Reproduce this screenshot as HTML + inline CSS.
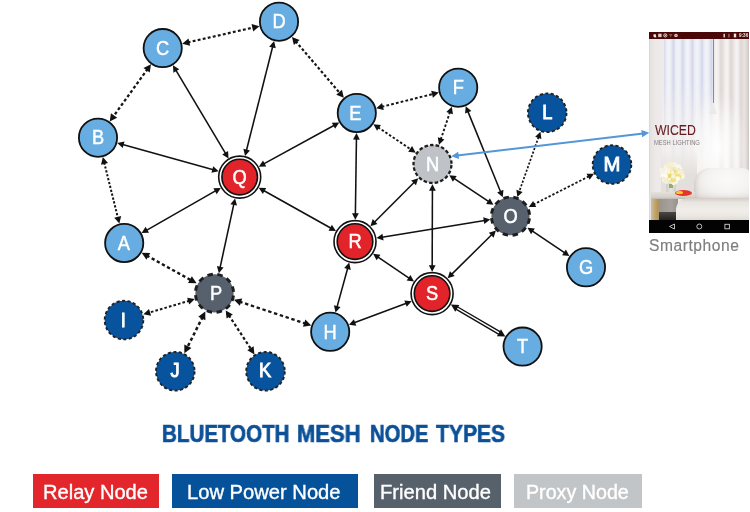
<!DOCTYPE html>
<html><head><meta charset="utf-8"><style>
html,body{margin:0;padding:0;background:#fff;}
body{width:750px;height:512px;position:relative;overflow:hidden;font-family:"Liberation Sans",sans-serif;}
svg#g{position:absolute;left:0;top:0;will-change:transform;}
#title div,.lt,#phone,#smart{will-change:transform;}
#phone{position:absolute;left:649px;top:32px;width:100px;height:201px;overflow:hidden;background:#efeae6;}
#phone div{position:absolute;}
#phone .sb{left:0;top:0;width:100px;height:6.8px;background:#4a0707;}
#phone .sb svg{position:absolute;left:0;top:0;}
#phone .wall{left:0;top:7px;width:15px;height:181px;background:linear-gradient(90deg,#d8d2d0 0,#e6e2e1 1.5px,#ece9e8 6px,#eeebea 15px);}
#phone .cur{left:15px;top:7px;width:49px;height:150px;background:repeating-linear-gradient(90deg,#d3d7e8 0,#e9ebf5 2px,#f3f4f9 4.5px,#eceef6 6.5px,#dcdfee 8.5px,#d3d7e8 9.5px);}
#phone .curfade{left:13px;top:50px;width:55px;height:115px;background:linear-gradient(180deg,rgba(244,241,239,0),rgba(244,241,239,0.55) 40px,#f3efec 90px);}
#phone .rc{left:64px;top:7px;width:36px;height:160px;background:repeating-linear-gradient(90deg,#e6e0de 0,#f6f3f2 3px,#f2efee 5px,#dcd6d4 8px,#e6e0de 10px);}
#phone .rcedge{left:94px;top:7px;width:6px;height:160px;background:linear-gradient(90deg,rgba(214,205,200,0),#cfc6c1);}
#phone .glow{left:38px;top:60px;width:62px;height:110px;background:radial-gradient(closest-side,rgba(255,255,255,0.97),rgba(255,255,255,0.5) 55%,rgba(255,255,255,0) 100%);}
#phone .cord{left:64px;top:7px;width:1px;height:64px;background:#4fa597;}
#phone .lamp{left:60px;top:71px;width:0;height:0;border-left:4.5px solid transparent;border-right:4.5px solid transparent;border-bottom:11px solid #eceae8;}
#phone .w1{left:6px;top:91.6px;font-size:13.8px;line-height:14px;color:#661a21;transform:scaleX(0.89);transform-origin:0 0;white-space:nowrap;-webkit-text-stroke:0.1px #661a21;}
#phone .w2{left:5px;top:107px;font-size:6.4px;line-height:7px;color:#857f7f;transform:scaleX(0.91);transform-origin:0 0;white-space:nowrap;}
#phone .bgl{left:12px;top:118px;width:36px;height:45px;background:linear-gradient(180deg,rgba(228,224,221,0),#e3dfdc 25px);}
#phone .flw{left:10px;top:129px;width:27px;height:26px;border-radius:50%;background:radial-gradient(circle at 35% 35%,#fbf8ea 0,rgba(251,248,234,0) 30%),radial-gradient(circle at 60% 55%,#eee08a 0,#f3e9b0 25%,#f7f1d8 50%,#f4efe2 62%,rgba(244,239,226,0) 72%);}
#phone .vase{left:17px;top:151px;width:10px;height:9px;background:linear-gradient(90deg,#cfcdc6,#e6e4de 50%,#cdd0c2);}
#phone .stem{left:20px;top:150px;width:4px;height:6px;background:#94a878;}
#phone .table{left:2px;top:159.5px;width:44px;height:7.5px;background:linear-gradient(180deg,#e4e0da,#d6d1ca 70%,#bfb9b1);}
#phone .under{left:2px;top:167px;width:27px;height:21px;background:linear-gradient(90deg,#c4beb8 0,#c4a463 4px,#b39457 7px,#9b958f 9px,#a7a29d 20px,#96918c 27px);}
#phone .under2{left:10px;top:180px;width:20px;height:8px;background:linear-gradient(180deg,#4a4643,#262423);}
#phone .tray{left:26px;top:158px;width:17px;height:6px;border-radius:50%;background:#e5352a;}
#phone .tray2{left:27px;top:158.5px;width:7px;height:3.5px;border-radius:50%;background:#f2c92f;}
#phone .pillow{left:45px;top:136px;width:57px;height:33px;border-radius:16px 8px 0 0;background:radial-gradient(ellipse at 60% 35%,#fbfaf9 0,#f5f3f1 45%,#e6e2df 80%,#d6d0cc 100%);box-shadow:inset 2px -3px 4px rgba(150,140,135,0.3);}
#phone .bed{left:27px;top:166px;width:75px;height:22px;background:linear-gradient(180deg,#d4cdc7,#e9e5e0 20%,#f1ede9 55%,#ebe7e2 80%,#e0dbd6);border-radius:12px 0 0 0;}
#phone .nav{left:0;top:188px;width:100px;height:13px;background:#030303;}
#phone .nav svg{position:absolute;left:0;top:0;}

#smart{position:absolute;left:649px;top:236.5px;font-size:15.6px;line-height:18px;color:#7d7d7d;-webkit-text-stroke:0.15px #7d7d7d;letter-spacing:0.55px;white-space:nowrap;}
#title div{position:absolute;top:421px;font-size:23.2px;line-height:26px;font-weight:bold;color:#0c5097;white-space:nowrap;letter-spacing:0px;transform-origin:0 0;-webkit-text-stroke:0.65px #0c5097;}
.lg{position:absolute;top:474px;height:34px;}
.lt{position:absolute;top:479.9px;color:#fff;font-size:19.5px;line-height:24px;white-space:nowrap;transform-origin:0 0;-webkit-text-stroke:0.35px #fff;}
</style></head><body>
<svg id="g" width="750" height="512" viewBox="0 0 750 512">
<line x1="175.82" y1="70.08" x2="225.66" y2="153.57" stroke="#111" stroke-width="1.55"/>
<path d="M172.95,65.27 L179.25,69.20 L173.41,72.68Z" fill="#111"/>
<path d="M228.53,158.38 L222.22,154.46 L228.06,150.97Z" fill="#111"/>
<line x1="272.72" y1="46.52" x2="246.42" y2="150.54" stroke="#111" stroke-width="1.55"/>
<path d="M274.10,41.09 L275.77,48.32 L269.18,46.65Z" fill="#111"/>
<path d="M245.04,155.97 L243.37,148.73 L249.96,150.40Z" fill="#111"/>
<line x1="122.66" y1="144.56" x2="213.30" y2="169.76" stroke="#111" stroke-width="1.55"/>
<path d="M117.27,143.06 L124.54,141.55 L122.72,148.10Z" fill="#111"/>
<path d="M218.70,171.26 L211.43,172.77 L213.25,166.22Z" fill="#111"/>
<line x1="146.44" y1="230.31" x2="215.90" y2="190.68" stroke="#111" stroke-width="1.55"/>
<path d="M141.57,233.09 L145.62,226.86 L148.99,232.77Z" fill="#111"/>
<path d="M220.77,187.90 L216.72,194.13 L213.35,188.22Z" fill="#111"/>
<line x1="334.34" y1="125.29" x2="263.73" y2="163.94" stroke="#111" stroke-width="1.55"/>
<path d="M339.26,122.60 L335.10,128.75 L331.83,122.79Z" fill="#111"/>
<path d="M258.82,166.63 L262.98,160.48 L266.24,166.45Z" fill="#111"/>
<line x1="263.61" y1="190.48" x2="331.09" y2="228.22" stroke="#111" stroke-width="1.55"/>
<path d="M258.73,187.74 L266.15,188.00 L262.83,193.93Z" fill="#111"/>
<path d="M335.97,230.96 L328.55,230.70 L331.87,224.77Z" fill="#111"/>
<line x1="233.89" y1="203.88" x2="220.03" y2="267.79" stroke="#111" stroke-width="1.55"/>
<path d="M235.08,198.40 L237.00,205.58 L230.36,204.13Z" fill="#111"/>
<path d="M218.84,273.27 L216.92,266.10 L223.57,267.54Z" fill="#111"/>
<line x1="356.44" y1="138.60" x2="355.38" y2="214.20" stroke="#111" stroke-width="1.55"/>
<path d="M356.52,133.00 L359.83,139.64 L353.03,139.55Z" fill="#111"/>
<path d="M355.31,219.80 L352.00,213.16 L358.80,213.25Z" fill="#111"/>
<line x1="374.36" y1="222.21" x2="414.27" y2="182.26" stroke="#111" stroke-width="1.55"/>
<path d="M370.40,226.18 L372.66,219.10 L377.47,223.91Z" fill="#111"/>
<path d="M418.23,178.29 L415.97,185.37 L411.16,180.56Z" fill="#111"/>
<line x1="382.04" y1="237.18" x2="484.74" y2="220.41" stroke="#111" stroke-width="1.55"/>
<path d="M376.51,238.09 L382.48,233.67 L383.58,240.38Z" fill="#111"/>
<path d="M490.27,219.50 L484.30,223.92 L483.21,217.21Z" fill="#111"/>
<line x1="377.72" y1="256.92" x2="409.38" y2="278.28" stroke="#111" stroke-width="1.55"/>
<path d="M373.07,253.79 L380.45,254.66 L376.64,260.30Z" fill="#111"/>
<path d="M414.03,281.41 L406.65,280.54 L410.46,274.90Z" fill="#111"/>
<line x1="347.74" y1="268.02" x2="336.99" y2="307.12" stroke="#111" stroke-width="1.55"/>
<path d="M349.22,262.62 L350.75,269.89 L344.19,268.08Z" fill="#111"/>
<path d="M335.50,312.52 L333.97,305.25 L340.53,307.05Z" fill="#111"/>
<line x1="453.94" y1="178.35" x2="488.81" y2="201.68" stroke="#111" stroke-width="1.55"/>
<path d="M449.29,175.23 L456.66,176.08 L452.88,181.73Z" fill="#111"/>
<path d="M493.46,204.80 L486.09,203.95 L489.87,198.30Z" fill="#111"/>
<line x1="432.42" y1="189.80" x2="432.18" y2="266.20" stroke="#111" stroke-width="1.55"/>
<path d="M432.44,184.20 L435.82,190.81 L429.02,190.79Z" fill="#111"/>
<path d="M432.17,271.80 L428.79,265.19 L435.59,265.21Z" fill="#111"/>
<line x1="467.85" y1="111.41" x2="500.66" y2="192.03" stroke="#111" stroke-width="1.55"/>
<path d="M465.74,106.22 L471.38,111.06 L465.08,113.62Z" fill="#111"/>
<path d="M502.77,197.21 L497.13,192.38 L503.43,189.82Z" fill="#111"/>
<line x1="491.93" y1="234.54" x2="451.60" y2="274.35" stroke="#111" stroke-width="1.55"/>
<path d="M495.91,230.60 L493.60,237.66 L488.83,232.82Z" fill="#111"/>
<path d="M447.61,278.28 L449.92,271.23 L454.70,276.07Z" fill="#111"/>
<line x1="532.11" y1="230.83" x2="564.80" y2="252.95" stroke="#111" stroke-width="1.55"/>
<path d="M527.48,227.69 L534.85,228.57 L531.04,234.21Z" fill="#111"/>
<path d="M569.44,256.09 L562.07,255.21 L565.88,249.57Z" fill="#111"/>
<line x1="406.44" y1="303.22" x2="354.17" y2="322.81" stroke="#111" stroke-width="1.55"/>
<path d="M411.69,301.25 L406.70,306.75 L404.31,300.39Z" fill="#111"/>
<path d="M348.93,324.78 L353.91,319.28 L356.30,325.65Z" fill="#111"/>
<line x1="187.66" y1="42.43" x2="254.04" y2="27.37" stroke="#161616" stroke-width="2.2" stroke-dasharray="2.88 2.27"/>
<path d="M182.20,43.67 L188.49,38.39 L190.15,45.72Z" fill="#111"/>
<path d="M259.50,26.13 L253.21,31.41 L251.55,24.08Z" fill="#111"/>
<line x1="147.71" y1="68.85" x2="112.99" y2="116.95" stroke="#161616" stroke-width="2.3" stroke-dasharray="2.97 2.33"/>
<path d="M150.99,64.31 L149.74,72.61 L143.51,68.11Z" fill="#111"/>
<path d="M109.71,121.49 L110.96,113.19 L117.19,117.69Z" fill="#111"/>
<line x1="104.18" y1="162.54" x2="118.02" y2="218.16" stroke="#161616" stroke-width="2.0" stroke-dasharray="2.24 1.76"/>
<path d="M102.83,157.11 L107.99,162.99 L101.03,164.72Z" fill="#111"/>
<path d="M119.37,223.59 L114.21,217.71 L121.17,215.98Z" fill="#111"/>
<line x1="295.60" y1="41.19" x2="340.20" y2="93.51" stroke="#161616" stroke-width="2.2" stroke-dasharray="2.74 2.16"/>
<path d="M291.97,36.92 L299.57,40.04 L293.84,44.91Z" fill="#111"/>
<path d="M343.83,97.78 L336.23,94.66 L341.96,89.79Z" fill="#111"/>
<line x1="381.64" y1="106.80" x2="433.36" y2="93.90" stroke="#161616" stroke-width="2.0" stroke-dasharray="2.74 2.16"/>
<path d="M376.21,108.16 L382.09,103.00 L383.82,109.95Z" fill="#111"/>
<path d="M438.79,92.54 L432.91,97.70 L431.18,90.75Z" fill="#111"/>
<line x1="378.03" y1="127.30" x2="411.10" y2="149.58" stroke="#161616" stroke-width="1.9" stroke-dasharray="2.48 1.95"/>
<path d="M373.39,124.17 L380.96,125.07 L377.06,130.86Z" fill="#111"/>
<path d="M415.75,152.71 L408.17,151.82 L412.08,146.03Z" fill="#111"/>
<line x1="450.03" y1="111.96" x2="440.74" y2="139.55" stroke="#161616" stroke-width="1.9" stroke-dasharray="2.48 1.95"/>
<path d="M451.82,106.65 L452.96,114.19 L446.34,111.96Z" fill="#111"/>
<path d="M438.95,144.86 L437.80,137.32 L444.42,139.55Z" fill="#111"/>
<line x1="538.57" y1="137.11" x2="519.23" y2="191.60" stroke="#161616" stroke-width="1.7" stroke-dasharray="2.16 1.69"/>
<path d="M540.44,131.84 L541.41,138.99 L535.18,136.78Z" fill="#111"/>
<path d="M517.36,196.88 L516.39,189.73 L522.62,191.94Z" fill="#111"/>
<line x1="589.00" y1="176.29" x2="533.77" y2="204.37" stroke="#161616" stroke-width="1.8" stroke-dasharray="2.41 1.89"/>
<path d="M593.99,173.75 L589.65,179.78 L586.57,173.71Z" fill="#111"/>
<path d="M528.77,206.91 L533.12,200.89 L536.20,206.95Z" fill="#111"/>
<line x1="146.56" y1="255.46" x2="191.70" y2="280.60" stroke="#161616" stroke-width="2.4" stroke-dasharray="3.28 2.58"/>
<path d="M141.67,252.73 L150.24,253.01 L146.42,259.87Z" fill="#111"/>
<path d="M196.59,283.32 L188.02,283.05 L191.84,276.19Z" fill="#111"/>
<line x1="189.47" y1="300.71" x2="148.74" y2="312.77" stroke="#161616" stroke-width="2.0" stroke-dasharray="2.63 2.07"/>
<path d="M194.84,299.12 L189.19,304.53 L187.16,297.66Z" fill="#111"/>
<path d="M143.37,314.36 L149.02,308.95 L151.06,315.83Z" fill="#111"/>
<line x1="202.78" y1="316.62" x2="186.89" y2="348.25" stroke="#161616" stroke-width="2.5" stroke-dasharray="3.30 2.60"/>
<path d="M205.29,311.62 L205.38,320.37 L198.22,316.77Z" fill="#111"/>
<path d="M184.37,353.25 L184.28,344.50 L191.44,348.10Z" fill="#111"/>
<line x1="228.78" y1="315.14" x2="251.38" y2="349.71" stroke="#161616" stroke-width="2.2" stroke-dasharray="2.94 2.31"/>
<path d="M225.72,310.46 L232.86,314.51 L226.57,318.62Z" fill="#111"/>
<path d="M254.45,354.39 L247.31,350.34 L253.60,346.23Z" fill="#111"/>
<line x1="239.26" y1="301.54" x2="305.91" y2="323.72" stroke="#161616" stroke-width="2.3" stroke-dasharray="3.42 2.68"/>
<path d="M233.95,299.77 L242.24,298.48 L239.82,305.77Z" fill="#111"/>
<path d="M311.22,325.49 L302.93,326.78 L305.36,319.48Z" fill="#111"/>
<line x1="455.74" y1="307.45" x2="500.51" y2="333.66" stroke="#111" stroke-width="4.2"/>
<line x1="455.74" y1="307.45" x2="500.51" y2="333.66" stroke="#fff" stroke-width="1.4"/>
<path d="M450.91,304.62 L459.32,304.90 L455.28,311.81Z" fill="#111"/>
<path d="M505.34,336.49 L496.93,336.20 L500.98,329.30Z" fill="#111"/>
<line x1="457.16" y1="155.59" x2="643.24" y2="133.51" stroke="#5297d8" stroke-width="2"/>
<path d="M451.20,156.30 L458.22,151.84 L459.07,158.99Z" fill="#5297d8"/>
<path d="M649.20,132.80 L642.18,137.26 L641.33,130.11Z" fill="#5297d8"/>
<circle cx="162.7" cy="48.1" r="19.1" fill="#67ade1" stroke="#111" stroke-width="1.8"/>
<text transform="translate(162.70,54.80) scale(0.9,1)" text-anchor="middle" fill="#fff" stroke="#fff" stroke-width="0.45" font-size="20.3" font-family="Liberation Sans">C</text>
<circle cx="279" cy="21.7" r="19.1" fill="#67ade1" stroke="#111" stroke-width="1.8"/>
<text transform="translate(279.00,28.40) scale(0.9,1)" text-anchor="middle" fill="#fff" stroke="#fff" stroke-width="0.45" font-size="20.3" font-family="Liberation Sans">D</text>
<circle cx="98" cy="137.7" r="19.1" fill="#67ade1" stroke="#111" stroke-width="1.8"/>
<text transform="translate(98.00,144.40) scale(0.9,1)" text-anchor="middle" fill="#fff" stroke="#fff" stroke-width="0.45" font-size="20.3" font-family="Liberation Sans">B</text>
<circle cx="239.7" cy="177.1" r="21" fill="#fff" stroke="#111" stroke-width="1.6"/>
<circle cx="239.7" cy="177.1" r="17.8" fill="#e2242a" stroke="#111" stroke-width="1.6"/>
<text transform="translate(239.70,183.80) scale(0.9,1)" text-anchor="middle" fill="#fff" stroke="#fff" stroke-width="0.5" font-size="20.3" font-family="Liberation Sans">Q</text>
<circle cx="124.2" cy="243" r="19.1" fill="#67ade1" stroke="#111" stroke-width="1.8"/>
<text transform="translate(123.80,249.70) scale(0.9,1)" text-anchor="middle" fill="#fff" stroke="#fff" stroke-width="0.45" font-size="20.3" font-family="Liberation Sans">A</text>
<circle cx="356.8" cy="113" r="19.1" fill="#67ade1" stroke="#111" stroke-width="1.8"/>
<text transform="translate(355.30,119.70) scale(0.9,1)" text-anchor="middle" fill="#fff" stroke="#fff" stroke-width="0.45" font-size="20.3" font-family="Liberation Sans">E</text>
<circle cx="458.2" cy="87.7" r="19.1" fill="#67ade1" stroke="#111" stroke-width="1.8"/>
<text transform="translate(458.20,94.40) scale(0.9,1)" text-anchor="middle" fill="#fff" stroke="#fff" stroke-width="0.45" font-size="20.3" font-family="Liberation Sans">F</text>
<circle cx="432.5" cy="164" r="19.1" fill="#bfc3c7"/>
<circle cx="432.5" cy="164" r="19.0" fill="none" stroke="#1e1e1e" stroke-width="2.3" stroke-dasharray="3.500 2.185" stroke-dashoffset="4.498"/>
<text transform="translate(432.50,170.70) scale(0.9,1)" text-anchor="middle" fill="#fff" stroke="#fff" stroke-width="0.55" font-size="20.3" font-family="Liberation Sans">N</text>
<circle cx="547.2" cy="112.8" r="19.3" fill="#07539d"/>
<circle cx="547.2" cy="112.8" r="19.3" fill="none" stroke="#222" stroke-width="1.9" stroke-dasharray="3.100 2.412" stroke-dashoffset="5.317"/>
<text transform="translate(547.20,118.60) scale(0.9,1)" text-anchor="middle" fill="#fff" stroke="#fff" stroke-width="0.9" font-size="20.3" font-family="Liberation Sans">L</text>
<circle cx="612" cy="164.6" r="19.3" fill="#07539d"/>
<circle cx="612" cy="164.6" r="19.3" fill="none" stroke="#222" stroke-width="1.9" stroke-dasharray="3.100 2.412" stroke-dashoffset="5.317"/>
<text transform="translate(612.00,171.00) scale(1.0,1)" text-anchor="middle" fill="#fff" stroke="#fff" stroke-width="0.9" font-size="20.3" font-family="Liberation Sans">M</text>
<circle cx="510.5" cy="216.2" r="19.1" fill="#56616d"/>
<circle cx="510.5" cy="216.2" r="19.1" fill="none" stroke="#1e1e1e" stroke-width="2.9" stroke-dasharray="5.400 4.601" stroke-dashoffset="7.700"/>
<text transform="translate(510.50,222.90) scale(0.9,1)" text-anchor="middle" fill="#fff" stroke="#fff" stroke-width="0.5" font-size="20.3" font-family="Liberation Sans">O</text>
<circle cx="355" cy="241.6" r="21" fill="#fff" stroke="#111" stroke-width="1.6"/>
<circle cx="355" cy="241.6" r="17.8" fill="#e2242a" stroke="#111" stroke-width="1.6"/>
<text transform="translate(355.00,248.30) scale(0.9,1)" text-anchor="middle" fill="#fff" stroke="#fff" stroke-width="0.5" font-size="20.3" font-family="Liberation Sans">R</text>
<circle cx="432.1" cy="293.6" r="21" fill="#fff" stroke="#111" stroke-width="1.6"/>
<circle cx="432.1" cy="293.6" r="17.8" fill="#e2242a" stroke="#111" stroke-width="1.6"/>
<text transform="translate(432.10,300.30) scale(0.9,1)" text-anchor="middle" fill="#fff" stroke="#fff" stroke-width="0.5" font-size="20.3" font-family="Liberation Sans">S</text>
<circle cx="586" cy="267.3" r="19.1" fill="#67ade1" stroke="#111" stroke-width="1.8"/>
<text transform="translate(586.00,274.00) scale(0.9,1)" text-anchor="middle" fill="#fff" stroke="#fff" stroke-width="0.45" font-size="20.3" font-family="Liberation Sans">G</text>
<circle cx="330.2" cy="331.8" r="19.1" fill="#67ade1" stroke="#111" stroke-width="1.8"/>
<text transform="translate(330.20,338.50) scale(0.9,1)" text-anchor="middle" fill="#fff" stroke="#fff" stroke-width="0.45" font-size="20.3" font-family="Liberation Sans">H</text>
<circle cx="522.6" cy="346.6" r="19.1" fill="#67ade1" stroke="#111" stroke-width="1.8"/>
<text transform="translate(522.60,353.30) scale(0.9,1)" text-anchor="middle" fill="#fff" stroke="#fff" stroke-width="0.45" font-size="20.3" font-family="Liberation Sans">T</text>
<circle cx="214.5" cy="293.3" r="19.1" fill="#56616d"/>
<circle cx="214.5" cy="293.3" r="19.1" fill="none" stroke="#1e1e1e" stroke-width="2.9" stroke-dasharray="5.400 4.601" stroke-dashoffset="7.700"/>
<text transform="translate(216.00,300.00) scale(0.9,1)" text-anchor="middle" fill="#fff" stroke="#fff" stroke-width="0.5" font-size="20.3" font-family="Liberation Sans">P</text>
<circle cx="124" cy="320.1" r="19.3" fill="#07539d"/>
<circle cx="124" cy="320.1" r="19.3" fill="none" stroke="#222" stroke-width="1.9" stroke-dasharray="3.100 2.412" stroke-dashoffset="5.317"/>
<text transform="translate(123.40,326.80) scale(0.9,1)" text-anchor="middle" fill="#fff" stroke="#fff" stroke-width="0.9" font-size="20.3" font-family="Liberation Sans">I</text>
<circle cx="175.3" cy="371.3" r="19.3" fill="#07539d"/>
<circle cx="175.3" cy="371.3" r="19.3" fill="none" stroke="#222" stroke-width="1.9" stroke-dasharray="3.100 2.412" stroke-dashoffset="5.317"/>
<text transform="translate(175.00,377.30) scale(0.9,1)" text-anchor="middle" fill="#fff" stroke="#fff" stroke-width="0.9" font-size="20.3" font-family="Liberation Sans">J</text>
<circle cx="265.5" cy="371.3" r="19.3" fill="#07539d"/>
<circle cx="265.5" cy="371.3" r="19.3" fill="none" stroke="#222" stroke-width="1.9" stroke-dasharray="3.100 2.412" stroke-dashoffset="5.317"/>
<text transform="translate(265.20,377.30) scale(0.9,1)" text-anchor="middle" fill="#fff" stroke="#fff" stroke-width="0.9" font-size="20.3" font-family="Liberation Sans">K</text>
</svg>
<div id="phone">
  <div class="wall"></div>
  <div class="rc"></div>
  <div class="cur"></div>
  <div class="curfade"></div>
  <div class="rcedge"></div>
  <div class="glow"></div>
  <div class="cord"></div>
  <div class="lamp"></div>
  <div class="w1">WICED</div>
  <div class="w2">MESH LIGHTING</div>
  <div class="bgl"></div>
  <div class="pillow"></div>
  <div class="under"></div>
  <div class="under2"></div>
  <div class="table"></div>
  <div class="vase"></div>
  <div class="stem"></div>
  <svg class="fl" width="100" height="201" viewBox="0 0 100 201" style="position:absolute;left:0;top:0"><circle cx="23.6" cy="149.3" r="2.4" fill="#ece6d2"/><circle cx="24.2" cy="142.5" r="2.3" fill="#fdfbf3"/><circle cx="26.3" cy="149.9" r="2.1" fill="#ece6d2"/><circle cx="26.4" cy="138.3" r="2.5" fill="#f4e8a2"/><circle cx="21.7" cy="139.8" r="2.0" fill="#faf7ea"/><circle cx="33.1" cy="143.8" r="2.5" fill="#ece6d2"/><circle cx="29.1" cy="139.0" r="2.8" fill="#ece6d2"/><circle cx="27.4" cy="146.5" r="1.9" fill="#f4e8a2"/><circle cx="30.1" cy="140.6" r="2.1" fill="#fdfbf3"/><circle cx="27.2" cy="135.5" r="2.3" fill="#ece6d2"/><circle cx="30.5" cy="137.3" r="2.8" fill="#fdfbf3"/><circle cx="20.9" cy="138.5" r="2.5" fill="#faf7ea"/><circle cx="25.4" cy="150.8" r="1.7" fill="#fdfbf3"/><circle cx="14.2" cy="142.9" r="2.6" fill="#fdfbf3"/><circle cx="19.4" cy="144.1" r="2.6" fill="#f4e8a2"/><circle cx="31.3" cy="144.1" r="2.3" fill="#f6f0d2"/><circle cx="28.1" cy="139.5" r="2.0" fill="#efe07e"/><circle cx="30.6" cy="145.6" r="2.8" fill="#f3ebc4"/><circle cx="21.5" cy="146.9" r="2.0" fill="#fdfbf3"/><circle cx="33.1" cy="139.6" r="2.6" fill="#ece6d2"/><circle cx="15.2" cy="148.1" r="2.3" fill="#faf7ea"/><circle cx="30.3" cy="139.4" r="2.7" fill="#f7f3e2"/><circle cx="17.8" cy="143.9" r="1.6" fill="#f6f0d2"/><circle cx="15.8" cy="145.9" r="1.7" fill="#f3ebc4"/><circle cx="17.8" cy="137.1" r="2.3" fill="#fdfbf3"/><circle cx="21.6" cy="148.9" r="2.8" fill="#faf7ea"/><circle cx="22.9" cy="148.7" r="1.8" fill="#fdfbf3"/><circle cx="26.8" cy="150.0" r="2.0" fill="#fdfbf3"/><circle cx="16.1" cy="148.1" r="2.0" fill="#f3ebc4"/><circle cx="24.7" cy="150.8" r="2.4" fill="#f3ebc4"/><circle cx="21.0" cy="139.5" r="2.4" fill="#fdfbf3"/><circle cx="24.6" cy="150.9" r="2.0" fill="#faf7ea"/><circle cx="16.9" cy="134.4" r="2.5" fill="#f7f3e2"/><circle cx="33.5" cy="144.1" r="2.6" fill="#f3ebc4"/><circle cx="17.6" cy="149.7" r="2.3" fill="#f6f0d2"/><circle cx="16.0" cy="145.4" r="2.0" fill="#ece6d2"/><circle cx="16.8" cy="145.2" r="1.8" fill="#ece6d2"/><circle cx="33.7" cy="142.3" r="2.3" fill="#ece6d2"/><circle cx="32.3" cy="141.2" r="2.6" fill="#f6f0d2"/><circle cx="18.9" cy="135.9" r="2.7" fill="#f6f0d2"/><circle cx="29.6" cy="134.9" r="2.6" fill="#faf7ea"/><circle cx="33.1" cy="144.6" r="2.7" fill="#f7f3e2"/><circle cx="29.8" cy="137.5" r="1.8" fill="#f3ebc4"/><circle cx="20.2" cy="149.7" r="1.7" fill="#ece6d2"/><circle cx="26.2" cy="140.3" r="2.6" fill="#f4e8a2"/><circle cx="27.8" cy="143.8" r="1.8" fill="#efe07e"/><circle cx="25.7" cy="132.7" r="2.2" fill="#faf7ea"/><circle cx="16.7" cy="139.3" r="1.9" fill="#f7f3e2"/><circle cx="15.9" cy="140.9" r="2.6" fill="#faf7ea"/><circle cx="23.4" cy="139.9" r="2.8" fill="#f4e8a2"/><circle cx="25.0" cy="139.7" r="1.8" fill="#ead66a"/><circle cx="29.2" cy="144.7" r="2.0" fill="#ead66a"/><circle cx="25.3" cy="147.3" r="2.5" fill="#efe07e"/><circle cx="20.7" cy="143.9" r="2.2" fill="#ead66a"/><circle cx="18.2" cy="136.1" r="2.3" fill="#faf7ea"/><circle cx="16.9" cy="144.5" r="2.1" fill="#fdfbf3"/><circle cx="20.4" cy="135.6" r="2.4" fill="#f6f0d2"/><circle cx="29.5" cy="144.8" r="2.7" fill="#efe07e"/><circle cx="15.6" cy="148.7" r="1.7" fill="#fdfbf3"/><circle cx="19.1" cy="133.0" r="2.4" fill="#ece6d2"/><circle cx="22.2" cy="134.5" r="2.2" fill="#f3ebc4"/><circle cx="23.6" cy="148.2" r="2.4" fill="#efe07e"/><circle cx="15.9" cy="148.4" r="1.6" fill="#f3ebc4"/><circle cx="28.7" cy="146.6" r="2.3" fill="#fdfbf3"/><circle cx="23.6" cy="140.2" r="1.7" fill="#f7f3e2"/><circle cx="22.9" cy="132.4" r="2.6" fill="#f6f0d2"/><circle cx="24.3" cy="144.5" r="2.1" fill="#f7f3e2"/><circle cx="19.7" cy="132.8" r="2.7" fill="#f6f0d2"/><circle cx="12.8" cy="138.6" r="2.8" fill="#f7f3e2"/><circle cx="14.9" cy="146.5" r="1.8" fill="#f6f0d2"/></svg>
  <div class="tray"></div>
  <div class="tray2"></div>
  <div class="bed"></div>
  <div class="sb"><svg width="100" height="7" viewBox="0 0 100 7"><g fill="#f0e4e4"><path d="M4.6,2.2 L6.8,2.2 L7.3,5.2 L5.6,5.6 L4.3,4.2Z"/><rect x="9.2" y="1.7" width="3.4" height="3.4" fill="#d9cccc"/><circle cx="16.3" cy="3.4" r="1.6" fill="none" stroke="#f0e4e4" stroke-width="0.9"/><circle cx="16.3" cy="3.4" r="0.6"/><path d="M19.8,2 L23.6,2 L21.7,5.2Z" fill="#8a5050"/><circle cx="27" cy="3.4" r="1.7"/><circle cx="27" cy="3.4" r="0.8" fill="#9a6a6a"/><rect x="74.5" y="1.8" width="1.4" height="3.6"/><rect x="79" y="1.8" width="1.8" height="3.6" fill="#8a5050"/><rect x="84.8" y="1.6" width="2.4" height="3.8"/></g><text x="90" y="5.4" font-size="4.6" fill="#f0e4e4" font-family="Liberation Sans" font-weight="bold">9:36</text></svg></div>
  <div class="nav"><svg width="100" height="13" viewBox="0 0 100 13"><path d="M20.5,6.5 L25.5,4 L25.5,9Z" fill="none" stroke="#cfcfcf" stroke-width="0.9"/><circle cx="50.3" cy="6.5" r="2.5" fill="none" stroke="#cfcfcf" stroke-width="0.9"/><rect x="75.9" y="4.3" width="4.5" height="4.5" fill="none" stroke="#cfcfcf" stroke-width="0.9"/></svg></div>
</div>
<div id="smart">Smartphone</div>

<div id="title"><div style="left:161.7px;transform:scaleX(0.886)">BLUETOOTH</div><div style="left:297.35px;transform:scaleX(0.949)">MESH</div><div style="left:369.7px;transform:scaleX(0.873)">NODE</div><div style="left:436.2px;transform:scaleX(0.909)">TYPES</div></div>
<div class="lg" style="left:33px;width:126px;background:#e3262b"></div>
<div class="lg" style="left:172px;width:186px;background:#05529b"></div>
<div class="lg" style="left:374px;width:127px;background:#56616b"></div>
<div class="lg" style="left:514px;width:128px;background:#c2c5c8"></div>
<div class="lt" style="left:43px;transform:scaleX(1.03)">Relay Node</div>
<div class="lt" style="left:186.5px;transform:scaleX(1.034)">Low Power Node</div>
<div class="lt" style="left:380px;transform:scaleX(1.033)">Friend Node</div>
<div class="lt" style="left:526px;transform:scaleX(1.009)">Proxy Node</div>
</body></html>
